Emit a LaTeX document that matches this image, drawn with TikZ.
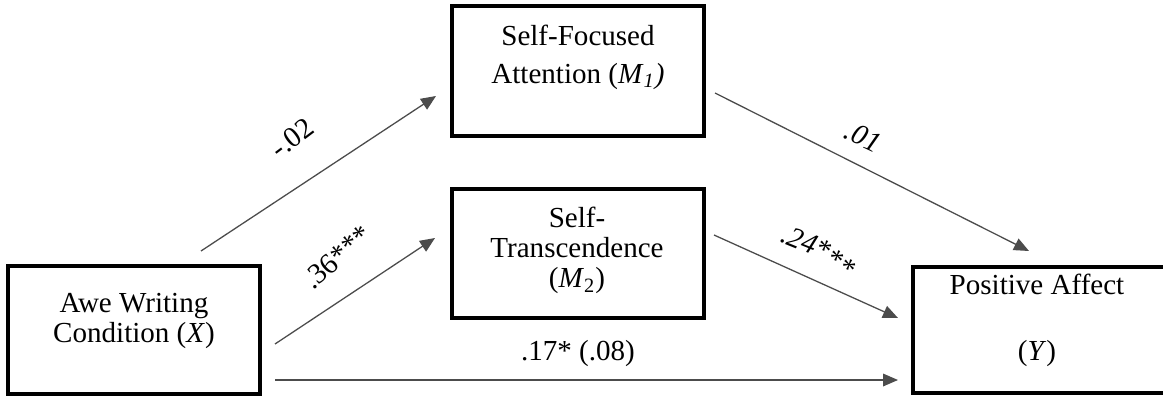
\documentclass[tikz,border=0pt]{standalone}
\usepackage{fontspec}
\setmainfont{Liberation Serif}
\usetikzlibrary{arrows.meta}

\begin{document}
\begin{tikzpicture}[x=0.015cm,y=-0.015cm,
  font=\fontsize{12.4}{12.9}\selectfont,
  varbox/.style={draw,line width=1.3pt,inner sep=0pt,minimum width=3.78cm},
  effect/.style={draw=black!70,line width=0.55pt,-{Triangle[length=6.4pt,width=5.4pt]}},
  coef/.style={inner sep=0pt}]
\useasboundingbox (0,0) rectangle (1163,396);

\node[varbox,minimum height=1.92cm] (awe) at (134,330){};
\node[varbox,minimum height=1.95cm] (focus) at (578,71){};
\node[varbox,minimum height=1.935cm] (trans) at (578,253.5){};
\node[varbox,minimum height=1.89cm,minimum width=3.81cm] (affect) at (1040,330){};

\node[align=center] (awetxt) at (134,321){Awe Writing\\Condition (\textit{X})};
\node[align=center] (focustxt) at (578,57){Self-Focused\\[3.4pt]Attention (\textit{M}\textsubscript{\textit{1}}\textit{)}};
\node[align=center] (transtxt) at (577,250.5){Self-\\Transcendence\\(\textit{M}\textsubscript{2})};
\node[align=center] (affecttxt) at (1037,320.5){Positive Affect\\[15pt](\textit{Y})};

\coordinate (a1s) at (201,251); \coordinate (a1e) at (436,96);
\coordinate (a2s) at (275,344); \coordinate (a2e) at (435,238);
\coordinate (a3s) at (275,380); \coordinate (a3e) at (898,380);
\coordinate (b1s) at (715,93);  \coordinate (b1e) at (1029,251);
\coordinate (b2s) at (714,235); \coordinate (b2e) at (898,318);

\draw[effect] (a1s) -- (a1e);
\draw[effect] (a2s) -- (a2e);
\draw[effect] (a3s) -- (a3e);
\draw[effect] (b1s) -- (b1e);
\draw[effect] (b2s) -- (b2e);

\node[coef,rotate=37] (c1) at (292,138){-.02};
\node[coef,rotate=41] (c2) at (337,257){.36***};
\node[coef,rotate=-25] (c3) at (863,137){\textit{.01}};
\node[coef,rotate=-22] (c4) at (818,252){\textit{.24*}\raisebox{-2pt}{\textit{*}}\raisebox{-4pt}{\textit{*}}};
\node[coef,anchor=base] (c5) at (578,360){.17* (.08)};

\end{tikzpicture}
\end{document}
